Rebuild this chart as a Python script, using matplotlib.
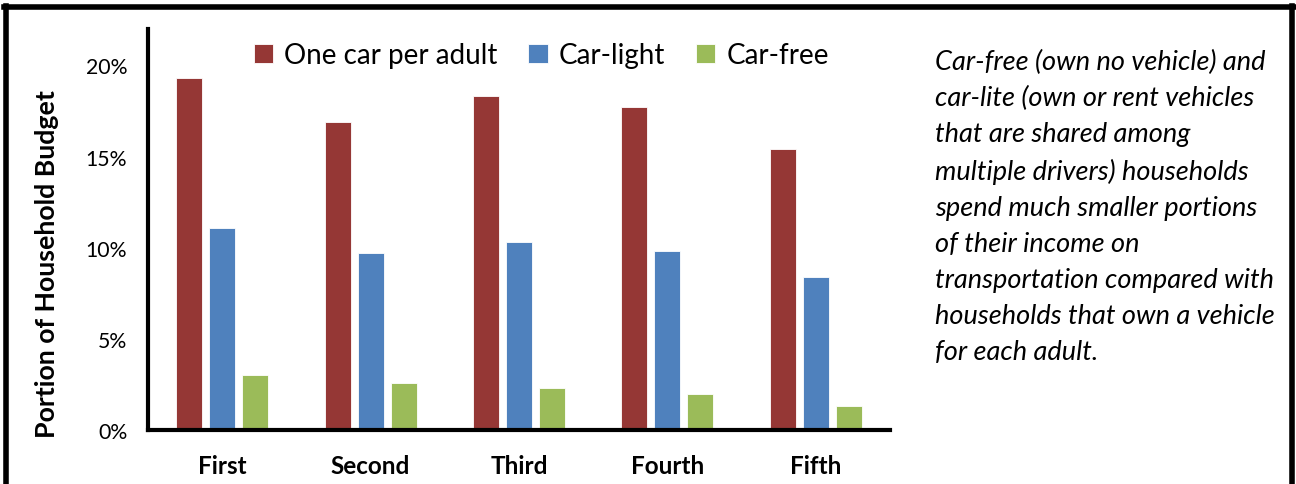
import numpy as np
import matplotlib.pyplot as plt
from matplotlib.lines import Line2D

quintiles = ['First', 'Second', 'Third', 'Fourth', 'Fifth']
one_car = [19.3, 16.9, 18.3, 17.7, 15.4]
car_light = [11.1, 9.7, 10.3, 9.8, 8.4]
car_free = [3.0, 2.6, 2.3, 2.0, 1.3]
series = ['One car per adult', 'Car-light', 'Car-free']
colors = ['#953735', '#4F81BD', '#9BBB59']
note = ('Car-free (own no vehicle) and\n'
        'car-lite (own or rent vehicles\n'
        'that are shared among\n'
        'multiple drivers) households\n'
        'spend much smaller portions\n'
        'of their income on\n'
        'transportation compared with\n'
        'households that own a vehicle\n'
        'for each adult.')

plt.rcParams['font.family'] = ['Lato', 'DejaVu Sans']

fig = plt.figure(figsize=(12.96, 4.85), dpi=100)
ax = fig.add_axes([148/1296, 1 - 431/485, 742/1296, 401/485])

x = np.arange(len(quintiles))
w = 0.175
step = 0.222
for i, (vals, lab, c) in enumerate(zip([one_car, car_light, car_free], series, colors)):
    ax.bar(x + (i - 1)*step, vals, width=w, color=c, edgecolor='white',
           linewidth=0.6, label=lab)

ax.set_xlim(-0.5, 4.5)
ax.set_ylim(0, 22)
ax.set_yticks([0, 5, 10, 15, 20])
ax.set_yticklabels(['0%', '5%', '10%', '15%', '20%'], fontsize=15.3)
ax.set_xticks(x)
ax.set_xticklabels(quintiles, fontsize=17.5, fontweight='bold')
ax.tick_params(axis='x', length=0, pad=17)
ax.tick_params(axis='y', length=0, pad=15)
for s in ['top', 'right']:
    ax.spines[s].set_visible(False)
for s in ['left', 'bottom']:
    ax.spines[s].set_linewidth(3)
ax.set_ylabel('Portion of Household Budget', fontsize=19.3, fontweight='bold')
ax.yaxis.set_label_coords(-0.12, 0.416)

ax.legend(loc='center', bbox_to_anchor=(0.53, 0.935), ncol=3, frameon=False,
          fontsize=20, handlelength=0.7, handleheight=0.7, handletextpad=0.4,
          columnspacing=1.1, borderaxespad=0)

fig.text(935/1296, 1 - 50/485, note, fontsize=19.5, style='italic',
         va='top', ha='left', linespacing=1.55)

# frame around the figure
fig.add_artist(Line2D([0.005, 0.005], [0, 0.986], transform=fig.transFigure,
                      color='black', lw=4))
fig.add_artist(Line2D([0.997, 0.997], [0, 0.986], transform=fig.transFigure,
                      color='black', lw=4))
fig.add_artist(Line2D([0.003, 0.999], [0.984, 0.984], transform=fig.transFigure,
                      color='black', lw=4))

fig.savefig('out.png', dpi=100)
